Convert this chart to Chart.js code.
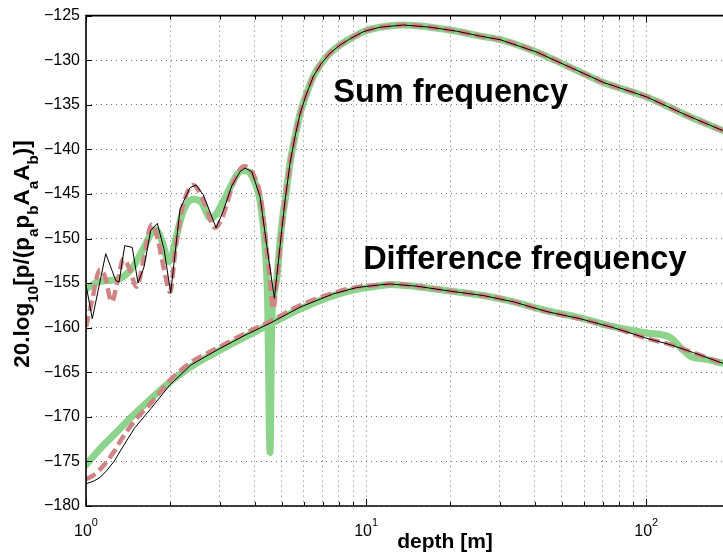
<!DOCTYPE html>
<html>
<head>
<meta charset="utf-8">
<script src="https://cdn.jsdelivr.net/npm/chart.js@4/dist/chart.umd.min.js"></script>
<style>
  html, body { margin: 0; padding: 0; background: #fff; overflow: hidden; }
  canvas { display: block; }
</style>
</head>
<body>
<canvas id="c" width="723" height="554"></canvas>
<script>
// ---- axis definitions ----
const xMin = 1, xMax = 188;
const xGridValues = [1,2,3,4,5,6,7,8,9,10,20,30,40,50,60,70,80,90,100];
const xLabelValues = [1, 10, 100];
const yTicks = [-180,-175,-170,-165,-160,-155,-150,-145,-140,-135,-130,-125];

// ---- sum frequency: shared upper branch (all three curves coincide) ----
const sumMainDepth = [5.125, 5.353, 5.589, 5.811, 6.107, 6.484, 6.908, 7.437, 8.075, 8.768, 9.781, 11.22, 13.59, 16.93, 21.08, 25.53, 30.10, 40.71, 53.54, 70.39, 100, 139.8, 187.8];
const sumMain      = [-146.0, -141.5, -138.4, -136.0, -133.9, -131.8, -130.4, -129.2, -128.3, -127.6, -126.8, -126.3, -126.05, -126.3, -126.75, -127.3, -127.7, -129.1, -130.8, -132.5, -134.1, -136.2, -137.9];

// sum frequency, thin black curve (near field)
const sumThinDepth = [1.0, 1.053, 1.176, 1.277, 1.312, 1.375, 1.463, 1.533, 1.611, 1.702, 1.797, 1.899, 2.006, 2.166, 2.352, 2.471, 2.624, 2.913, 3.093, 3.314, 3.548, 3.697, 3.907, 4.182, 4.419, 4.704, 4.931];
const sumThin      = [-155.2, -159.0, -151.7, -154.7, -154.9, -150.8, -151.0, -155.0, -153.2, -149.1, -148.3, -151.2, -156.1, -146.7, -144.3, -144.0, -145.1, -148.8, -146.9, -144.1, -142.5, -142.1, -142.5, -145.3, -150.8, -156.7, -150.8];

// sum frequency, dashed curve (near field)
const sumDashDepth = [1.0, 1.05, 1.12, 1.17, 1.235, 1.30, 1.36, 1.43, 1.517, 1.60, 1.716, 1.80, 1.90, 1.995, 2.09, 2.197, 2.30, 2.417, 2.52, 2.661, 2.889, 3.05, 3.18, 3.314, 3.453, 3.598, 3.697, 3.852, 3.958, 4.182, 4.298, 4.50, 4.665, 4.80, 4.931];
const sumDash      = [-159.9, -157.0, -153.5, -154.3, -157.1, -154.6, -152.3, -153.4, -155.4, -152.6, -148.4, -150.0, -153.5, -156.0, -151.0, -146.9, -144.8, -144.0, -144.6, -146.2, -148.8, -147.8, -146.2, -144.3, -142.9, -142.0, -141.9, -142.3, -142.8, -145.0, -147.9, -153.5, -157.9, -154.5, -150.8];

// sum frequency, thick green curve (near field)
const sumThickDepth = [1.0, 1.097, 1.218, 1.322, 1.463, 1.611, 1.702, 1.754, 1.812, 1.883, 1.967, 2.04, 2.108, 2.226, 2.417, 2.59, 2.78, 2.91, 3.093, 3.314, 3.453, 3.60, 3.73, 3.958, 4.182, 4.358, 4.45, 4.54, 4.60, 4.70, 4.798, 4.931, 5.066];
const sumThick      = [-155.7, -154.9, -154.7, -154.5, -153.3, -151.0, -149.5, -149.0, -149.3, -150.6, -152.6, -151.6, -149.6, -146.9, -145.6, -146.0, -147.7, -147.3, -145.8, -143.9, -142.9, -142.4, -142.4, -143.3, -145.8, -151.0, -157.0, -174.0, -160.0, -156.0, -154.5, -150.3, -147.0];

// ---- difference frequency ----
const diffTailDepth = [12.18, 15.18, 19.95, 26.24, 33.58, 44.2, 58.12, 76.39, 100.6, 121.8, 147.5, 187.8];
const diffTail      = [-155.1, -155.35, -155.9, -156.4, -157.1, -158.2, -159.0, -160.0, -161.2, -161.9, -162.8, -164.0];

const diffThinDepth = [1.0, 1.059, 1.122, 1.188, 1.259, 1.322, 1.401, 1.496, 1.702, 1.995, 2.366, 2.938, 3.666, 4.54, 5.811, 7.642, 9.265, 11.22];
const diffThin      = [-177.5, -177.25, -176.8, -176.0, -175.0, -173.9, -172.6, -171.2, -169.1, -166.4, -164.2, -162.5, -160.9, -159.5, -157.7, -156.2, -155.5, -155.2];

const diffDashDepth = [1.0, 1.059, 1.122, 1.188, 1.259, 1.322, 1.401, 1.496, 1.702, 1.995, 2.366, 2.938, 3.666, 4.54, 5.811, 7.642, 9.265, 11.22];
const diffDash      = [-177.0, -176.6, -175.9, -175.0, -173.9, -172.8, -171.6, -170.4, -168.5, -165.9, -163.9, -162.3, -160.7, -159.3, -157.5, -156.1, -155.45, -155.2];

const diffThickDepth = [1.0, 1.122, 1.269, 1.444, 1.702, 1.995, 2.366, 2.938, 3.666, 4.54, 5.811, 7.642, 9.265, 11.22, 12.18, 15.18, 19.95, 26.24, 33.58, 44.2, 58.12, 76.39, 100.6, 121.8, 132.3, 145.6, 160, 187.8];
const diffThick      = [-175.4, -173.6, -171.9, -170.1, -168.0, -166.1, -164.4, -162.7, -161.1, -159.6, -157.9, -156.4, -155.7, -155.3, -155.15, -155.4, -155.9, -156.4, -157.1, -158.1, -158.9, -159.9, -160.6, -161.1, -162.2, -163.3, -163.5, -164.0];

// ---- styling ----
const FONT = "'Liberation Sans', Arial, Helvetica, sans-serif";
const THIN = '#000000';
const DASH = '#d08484';
const THICK = '#8cd38c';

const pts = (xs, ys) => xs.map((x, i) => ({ x: x, y: ys[i] }));

const thinStyle  = { borderColor: THIN, borderWidth: 1, tension: 0, order: 0 };
const dashStyle  = { borderColor: DASH, borderWidth: 4.5, borderDash: [11, 5], cubicInterpolationMode: 'monotone', order: 1 };
const thickStyle = { borderColor: THICK, borderWidth: 7, cubicInterpolationMode: 'monotone', borderCapStyle: 'round', borderJoinStyle: 'round', order: 2 };

const datasets = [
  Object.assign({ label: 'Sum (thin)',   data: pts(sumThinDepth.concat(sumMainDepth), sumThin.concat(sumMain)) }, thinStyle),
  Object.assign({ label: 'Diff (thin)',  data: pts(diffThinDepth.concat(diffTailDepth), diffThin.concat(diffTail)) }, thinStyle),
  Object.assign({ label: 'Sum (dash)',   data: pts(sumDashDepth.concat(sumMainDepth), sumDash.concat(sumMain)) }, dashStyle),
  Object.assign({ label: 'Diff (dash)',  data: pts(diffDashDepth.concat(diffTailDepth), diffDash.concat(diffTail)) }, dashStyle),
  Object.assign({ label: 'Sum (thick)',  data: pts(sumThickDepth.concat(sumMainDepth), sumThick.concat(sumMain)) }, thickStyle),
  Object.assign({ label: 'Diff (thick)', data: pts(diffThickDepth, diffThick) }, thickStyle)
];

// draws a string made of normal / subscript / superscript runs
function richWidth(ctx, runs, size, weight) {
  let w = 0;
  runs.forEach(r => {
    const s = r.sub || r.sup ? size * 0.68 : size;
    ctx.font = weight + ' ' + s + 'px ' + FONT;
    w += ctx.measureText(r.t).width;
  });
  return w;
}
function drawRich(ctx, runs, x, y, size, weight, subShift, supShift) {
  let cx = x;
  runs.forEach(r => {
    const s = r.sub || r.sup ? size * 0.68 : size;
    ctx.font = weight + ' ' + s + 'px ' + FONT;
    const dy = r.sub ? subShift : (r.sup ? -supShift : 0);
    ctx.fillText(r.t, cx, y + dy);
    cx += ctx.measureText(r.t).width;
  });
}

const decorations = {
  id: 'decorations',
  afterDraw(chart) {
    const ctx = chart.ctx;
    const a = chart.chartArea;
    const xs = chart.scales.x, ys = chart.scales.y;
    ctx.save();
    ctx.fillStyle = '#000';
    ctx.strokeStyle = '#000';

    // axes box (left, top, bottom)
    ctx.lineWidth = 1.6;
    ctx.beginPath();
    ctx.moveTo(a.right + 2, a.top);
    ctx.lineTo(a.left, a.top);
    ctx.lineTo(a.left, a.bottom);
    ctx.lineTo(a.right + 2, a.bottom);
    ctx.stroke();

    // inward tick marks
    ctx.lineWidth = 1;
    ctx.beginPath();
    yTicks.forEach(v => {
      const py = Math.round(ys.getPixelForValue(v)) + 0.5;
      ctx.moveTo(a.left, py); ctx.lineTo(a.left + 6, py);
    });
    xGridValues.forEach(v => {
      const px = Math.round(xs.getPixelForValue(v)) + 0.5;
      const len = xLabelValues.includes(v) ? 7 : 4;
      ctx.moveTo(px, a.bottom); ctx.lineTo(px, a.bottom - len);
      ctx.moveTo(px, a.top); ctx.lineTo(px, a.top + len);
    });
    ctx.stroke();

    // x tick labels 10^n
    ctx.textBaseline = 'alphabetic';
    ctx.textAlign = 'left';
    xLabelValues.forEach(v => {
      const px = xs.getPixelForValue(v);
      const runs = [{ t: '10' }, { t: String(Math.round(Math.log10(v))), sup: true }];
      const w = richWidth(ctx, runs, 16, 'normal');
      drawRich(ctx, runs, px - w / 2, 536, 16, 'normal', 0, 10);
    });

    // x axis title
    ctx.font = 'bold 21px ' + FONT;
    ctx.textAlign = 'center';
    ctx.fillText('depth [m]', 445, 548);

    // y axis title (rotated)
    ctx.textAlign = 'left';
    const yRuns = [
      { t: '20.log' }, { t: '10', sub: true }, { t: '[p/(p' }, { t: 'a', sub: true },
      { t: 'p' }, { t: 'b', sub: true }, { t: 'A' }, { t: 'a', sub: true },
      { t: 'A' }, { t: 'b', sub: true }, { t: ')]' }
    ];
    ctx.save();
    ctx.translate(29, 254);
    ctx.rotate(-Math.PI / 2);
    const yw = richWidth(ctx, yRuns, 22.5, 'bold');
    drawRich(ctx, yRuns, -yw / 2, 0, 22.5, 'bold', 9, 0);
    ctx.restore();

    // curve annotations
    ctx.font = 'bold 32.5px ' + FONT;
    ctx.textAlign = 'left';
    ctx.fillText('Sum frequency', xs.getPixelForValue(7.63), ys.getPixelForValue(-134.67));
    ctx.fillText('Difference frequency', xs.getPixelForValue(9.76), ys.getPixelForValue(-153.44));

    ctx.restore();
  }
};

new Chart(document.getElementById('c'), {
  type: 'line',
  data: { datasets: datasets },
  options: {
    responsive: false,
    maintainAspectRatio: false,
    animation: false,
    layout: { padding: { top: 11, right: 0, bottom: 0, left: 0 } },
    elements: { point: { radius: 0 }, line: { fill: false } },
    plugins: { legend: { display: false }, tooltip: { enabled: false } },
    scales: {
      x: {
        type: 'logarithmic',
        min: xMin,
        max: xMax,
        afterBuildTicks: s => { s.ticks = xGridValues.map(v => ({ value: v })); },
        afterFit: s => { s.height = 48; },
        ticks: { display: false },
        grid: { color: 'rgba(0,0,0,0.55)', lineWidth: 1, drawTicks: false },
        border: { display: false, dash: [1, 4] }
      },
      y: {
        min: -180,
        max: -125,
        afterBuildTicks: s => { s.ticks = yTicks.map(v => ({ value: v })); },
        afterFit: s => { s.width = 86; },
        ticks: {
          color: '#000',
          padding: 6,
          font: { family: FONT, size: 16 },
          callback: v => (v < 0 ? '\u2212' + Math.abs(v) : String(v))
        },
        grid: { color: 'rgba(0,0,0,0.55)', lineWidth: 1, drawTicks: false },
        border: { display: false, dash: [1, 4] }
      }
    }
  },
  plugins: [decorations]
});
</script>
</body>
</html>
